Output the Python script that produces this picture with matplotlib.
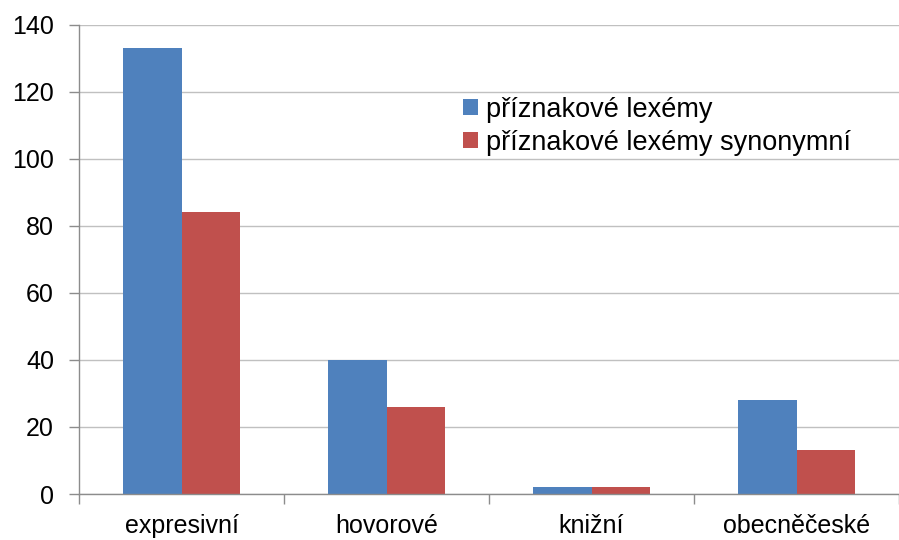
import numpy as np
import matplotlib.pyplot as plt

categories = ['expresivní', 'hovorové', 'knižní', 'obecněčeské']
lexemy = [133, 40, 2, 28]
synonymni = [84, 26, 2, 13]
series_names = ['příznakové lexémy', 'příznakové lexémy synonymní']

plt.rcParams['font.family'] = ['Liberation Sans', 'DejaVu Sans']

left, bottom_px, top_px = 79, 494, 24.5
fig = plt.figure(figsize=(8.99, 5.40), dpi=100)
ax = fig.add_axes([left / 899, (540 - bottom_px) / 540, 1 - left / 899, (bottom_px - top_px) / 540])

x = np.arange(len(categories))
w = 0.285
ax.bar(x - w / 2, lexemy, w, color='#4F81BD', label=series_names[0])
ax.bar(x + w / 2, synonymni, w, color='#C0504D', label=series_names[1])

gray = '#8C8C8C'
ax.set_ylim(0, 140)
ax.set_yticks(np.arange(0, 141, 20))
ax.yaxis.grid(True, color='#C0C0C0', linewidth=1)
ax.set_axisbelow(True)
ax.set_xlim(-0.5, -0.5 + (899 - left) / 208.3)

# category boundaries as major ticks, labels on minor ticks
ax.set_xticks(np.arange(len(categories) + 1) - 0.5)
ax.set_xticklabels([])
ax.set_xticks(x, minor=True)
ax.set_xticklabels(categories, minor=True)
ax.tick_params(axis='x', which='major', length=7, color=gray, width=1)
ax.tick_params(axis='x', which='minor', length=0, pad=14.5, labelsize=18)
ax.tick_params(axis='y', length=7, color=gray, width=1, pad=11, labelsize=18)

for s in ['top', 'right']:
    ax.spines[s].set_visible(False)
for s in ['left', 'bottom']:
    ax.spines[s].set_color(gray)
    ax.spines[s].set_linewidth(1)

ax.legend(loc='upper left', bbox_to_anchor=((452 - left) / 820, 1 - (86 - top_px) / 469.5),
          frameon=False, fontsize=19.5, handlelength=0.55, handleheight=0.55,
          handletextpad=0.3, labelspacing=0.25, borderaxespad=0)

fig.savefig('out.png', dpi=100)
